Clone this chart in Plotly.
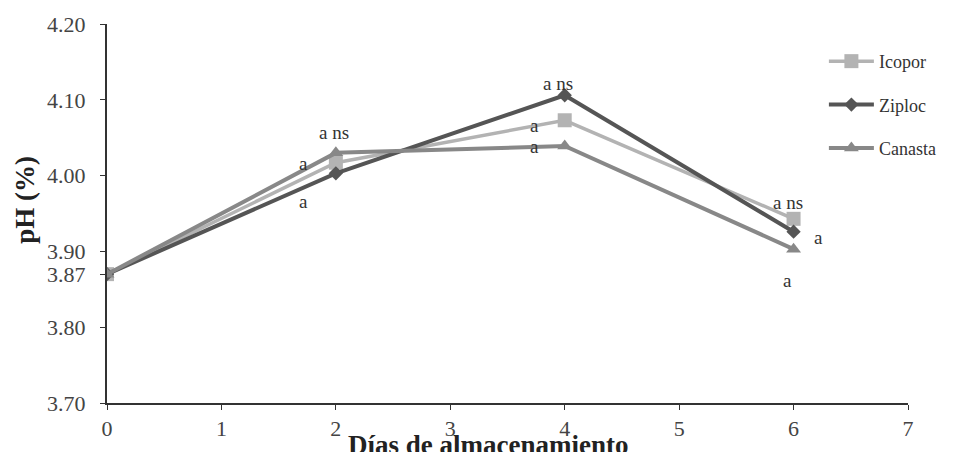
import plotly.graph_objects as go

days = [0, 2, 4, 6]
icopor = [3.87, 4.017, 4.073, 3.943]
ziploc = [3.87, 4.003, 4.106, 3.926]
canasta = [3.87, 4.030, 4.039, 3.903]

y_ticks = [3.70, 3.80, 3.87, 3.90, 4.00, 4.10, 4.20]
y_tick_labels = ["3.70", "3.80", "3.87", "3.90", "4.00", "4.10", "4.20"]
x_ticks = [0, 1, 2, 3, 4, 5, 6, 7]

# significance letters
sig_x = [1.98, 1.72, 1.72, 3.94, 3.74, 3.74, 5.95, 6.22, 5.95]
sig_y = [4.057, 4.016, 3.966, 4.121, 4.066, 4.038, 3.964, 3.918, 3.862]
sig_text = ["a ns", "a", "a", "a ns", "a", "a", "a ns", "a", "a"]

FONT = "Times New Roman, Liberation Serif, DejaVu Serif, serif"

fig = go.Figure()
fig.add_trace(go.Scatter(x=days, y=icopor, name="Icopor", mode="lines+markers",
                         line=dict(color="#b3b3b3", width=3.5),
                         marker=dict(symbol="square", size=14, color="#b3b3b3"),
                         legendgroup="a"))
fig.add_trace(go.Scatter(x=days, y=ziploc, name="Ziploc", mode="lines+markers",
                         line=dict(color="#555555", width=4),
                         marker=dict(symbol="diamond", size=11, color="#555555"),
                         legendgroup="b"))
fig.add_trace(go.Scatter(x=days, y=canasta, name="Canasta", mode="lines+markers",
                         line=dict(color="#888888", width=4),
                         marker=dict(symbol="triangle-up", size=13, color="#888888"),
                         legendgroup="c"))

for x, y, t in zip(sig_x, sig_y, sig_text):
    fig.add_annotation(x=x, y=y, text=t, showarrow=False, xref="x", yref="y",
                       font=dict(family=FONT, size=19, color="#333333"))

fig.add_annotation(x=3.33, y=0, xref="x", yref="paper", xanchor="center", yanchor="top", yshift=-25,
                   text="<b>Días de almacenamiento</b>",
                   showarrow=False, font=dict(family=FONT, size=27, color="#222222"))
fig.add_annotation(x=0, y=3.968, xref="paper", yref="y", xanchor="center", yanchor="middle",
                   xshift=-82, textangle=-90,
                   text="<b>pH (%)</b>",
                   showarrow=False, font=dict(family=FONT, size=27, color="#222222"))

fig.update_layout(
    width=958, height=452,
    margin=dict(l=107, r=50, t=24, b=49),
    plot_bgcolor="white", paper_bgcolor="white",
    font=dict(family=FONT, size=22, color="#444444"),
    legend=dict(x=0.895, y=0.95, xanchor="left", yanchor="top", bgcolor="rgba(0,0,0,0)",
                font=dict(family=FONT, size=18, color="#333333"), tracegroupgap=17, itemwidth=45),
    showlegend=True,
)
fig.update_xaxes(range=[0, 7], tickvals=x_ticks, ticks="outside", ticklen=5, tickcolor="#333333",
                 showline=True, linecolor="#333333", linewidth=2, showgrid=False, zeroline=False)
fig.update_yaxes(range=[3.70, 4.20], tickvals=y_ticks, ticktext=y_tick_labels, ticks="outside", ticklen=5,
                 tickcolor="#333333", showline=True, linecolor="#333333", linewidth=2, showgrid=False,
                 zeroline=False, ticklabelstandoff=10)

fig.write_html("out.html", post_script="document.body.style.margin='0';",
               config={"displayModeBar": False})
